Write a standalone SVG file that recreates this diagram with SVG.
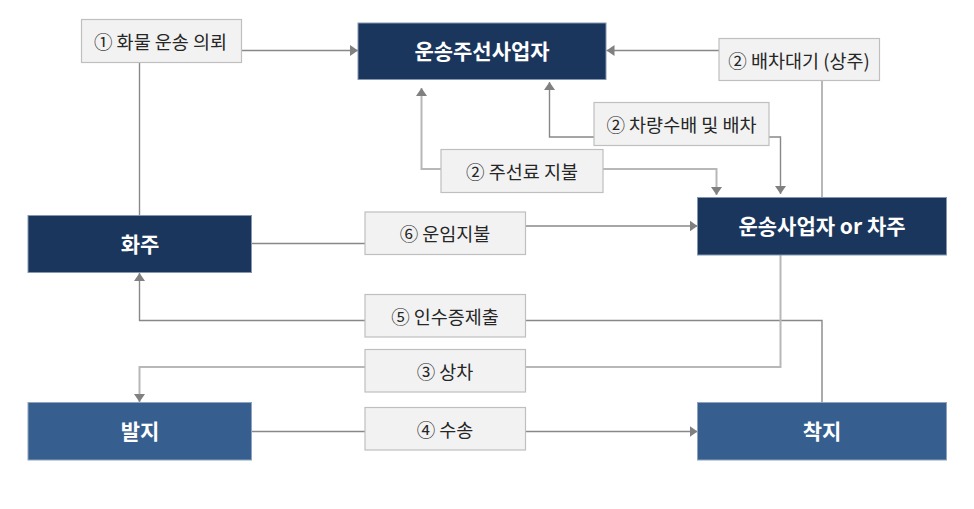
<svg xmlns="http://www.w3.org/2000/svg" width="974" height="509" viewBox="0 0 974 509">
<defs>
<marker id="arr" markerUnits="userSpaceOnUse" markerWidth="9" markerHeight="12" refX="8" refY="6" orient="auto" viewBox="0 0 9 12">
<path d="M0,0.5 L8,6 L0,11.5 z" fill="#808080"/>
</marker>
<style>
.bg{fill:#ffffff}
.dark rect{fill:#1b365d;stroke:#8496b0;stroke-width:1}
.mid rect{fill:#365f8f;stroke:#8ea3bd;stroke-width:1}
.node text{fill:#ffffff;font-family:"Noto Sans CJK KR","Noto Sans",sans-serif;font-weight:bold;font-size:21px;text-anchor:middle;dominant-baseline:central}
.lab rect{fill:#f2f2f2;stroke:#bfbfbf;stroke-width:1.2}
.lab text{fill:#262626;font-family:"Noto Sans CJK KR","Noto Sans",sans-serif;font-size:18.5px;text-anchor:middle;dominant-baseline:central}
.c path{fill:none}
.d{stroke:#888888;stroke-width:1.4}
.l{stroke:#b8b8b8;stroke-width:2}
</style>
</defs>
<rect class="bg" x="0" y="0" width="974" height="509"/>
<g id="connectors" class="c">
<path class="d" d="M241.5,50.5 H358" marker-end="url(#arr)"/>
<path class="d" d="M139.5,62.5 V215.5"/>
<path class="d" d="M719,50.5 H606.5" marker-end="url(#arr)"/>
<path class="l" d="M822,80.5 V197.5"/>
<path class="d" d="M594,137 H549.5 V82" marker-end="url(#arr)"/>
<path class="d" d="M769,137 H780.5 V194" marker-end="url(#arr)"/>
<path class="l" d="M441,169 H421.5 V88" marker-end="url(#arr)"/>
<path class="l" d="M603,169 H716.5 V195" marker-end="url(#arr)"/>
<path class="d" d="M251.5,243.5 H365"/>
<path class="d" d="M525.5,226 H697.5" marker-end="url(#arr)"/>
<path class="d" d="M365,320.5 H139.5 V273" marker-end="url(#arr)"/>
<path class="d" d="M525.5,320.5 H822 V402.5"/>
<path class="l" d="M780.5,255 V367 H525.5"/>
<path class="l" d="M365,367 H139.5 V402" marker-end="url(#arr)"/>
<path class="d" d="M251.5,431.5 H365"/>
<path class="d" d="M525.5,431.5 H697.5" marker-end="url(#arr)"/>
</g>
<g id="n-forwarder" class="node dark"><rect x="358" y="23" width="248" height="56.5"/><text x="482" y="50">운송주선사업자</text></g>
<g id="n-carrier" class="node dark"><rect x="697.5" y="197.5" width="249" height="57.5"/><text x="822" y="225">운송사업자 or 차주</text></g>
<g id="n-shipper" class="node dark"><rect x="28" y="215.5" width="223.5" height="57"/><text x="140" y="243">화주</text></g>
<g id="n-origin" class="node mid"><rect x="28" y="402.5" width="223.5" height="57.5"/><text x="140" y="430">발지</text></g>
<g id="n-dest" class="node mid"><rect x="697.5" y="402.5" width="249" height="57.5"/><text x="822" y="430">착지</text></g>
<g id="l1" class="lab"><rect x="81.5" y="19.5" width="160" height="43"/><text x="160.5" y="41">① 화물 운송 의뢰</text></g>
<g id="l2a" class="lab"><rect x="719" y="38.5" width="160.5" height="42"/><text x="799" y="59.5">② 배차대기 (상주)</text></g>
<g id="l2b" class="lab"><rect x="594" y="102.5" width="175" height="43"/><text x="681.5" y="124">② 차량수배 및 배차</text></g>
<g id="l2c" class="lab"><rect x="441" y="149.5" width="162" height="43"/><text x="522" y="171">② 주선료 지불</text></g>
<g id="l6" class="lab"><rect x="365" y="212" width="160.5" height="42.5"/><text x="445" y="233">⑥ 운임지불</text></g>
<g id="l5" class="lab"><rect x="365" y="294.5" width="160.5" height="42.5"/><text x="445" y="315.5">⑤ 인수증제출</text></g>
<g id="l3" class="lab"><rect x="365" y="349.5" width="160.5" height="42.5"/><text x="445" y="370.5">③ 상차</text></g>
<g id="l4" class="lab"><rect x="365" y="407.5" width="160.5" height="42.5"/><text x="445" y="428.5">④ 수송</text></g>
</svg>
